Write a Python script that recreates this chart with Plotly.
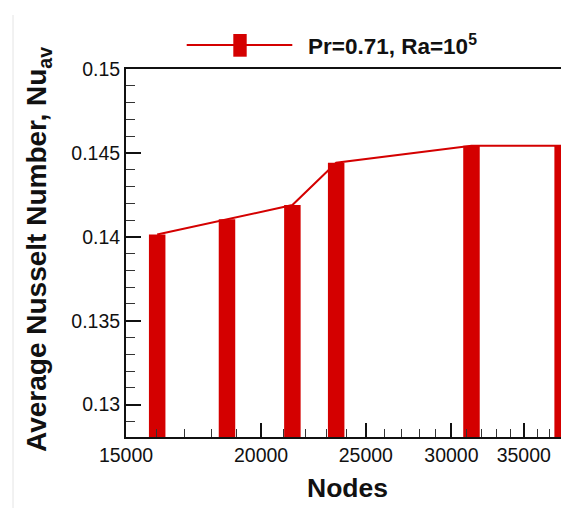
import math
import plotly.graph_objects as go

# ---------------- data ----------------
nodes = [16030, 18600, 21380, 23470, 31310, 38020]
nu_av = [0.14014, 0.14104, 0.14189, 0.14441, 0.14542, 0.14542]

x_major_ticks = [15000, 20000, 25000, 30000, 35000]
x_major_labels = ["15000", "20000", "25000", "30000", "35000"]
x_minor_ticks = [v for v in range(16000, 38000, 1000) if v % 5000 != 0]

y_major_ticks = [0.13, 0.135, 0.14, 0.145, 0.15]
y_major_labels = ["0.13", "0.135", "0.14", "0.145", "0.15"]

series_label = "Pr=0.71, Ra=10<sup>5</sup>"
x_title = "Nodes"
y_title = "Average Nusselt Number, Nu<sub>av</sub>"

# ---------------- style ----------------
W, H = 561, 508
ML, MR, MT, MB = 126, 0, 69, 71
PW, PH = W - ML - MR, H - MT - MB
RED = "#d40000"
FONT = "Liberation Sans, Arial, Helvetica, sans-serif"
BAR_BASE = 0.12  # below visible range, clipped by the axis
X_PX_PER_DECADE = 1081.0


def px_x(p):
    return (p - ML) / PW


def px_y(p):
    return (H - MB - p) / PH


# bars drawn as thick vertical segments from below the axis up to each value
bar_x, bar_y = [], []
for n, v in zip(nodes, nu_av):
    bar_x += [n, n, None]
    bar_y += [BAR_BASE, v, None]

fig = go.Figure()
fig.add_trace(go.Scatter(x=bar_x, y=bar_y, mode="lines",
                         line=dict(color=RED, width=16.5),
                         hoverinfo="skip", showlegend=False))
fig.add_trace(go.Scatter(x=nodes, y=nu_av, mode="lines",
                         line=dict(color=RED, width=2),
                         name=series_label, showlegend=False))

x0 = math.log10(15000)
x1 = x0 + PW / X_PX_PER_DECADE

fig.update_layout(
    width=W, height=H,
    margin=dict(l=ML, r=MR, t=MT, b=MB, pad=0),
    paper_bgcolor="white", plot_bgcolor="white",
    showlegend=False,
    font=dict(family=FONT, color="#111111"),
    xaxis=dict(
        type="log", range=[x0, x1],
        tickmode="array", tickvals=x_major_ticks, ticktext=x_major_labels,
        ticks="inside", ticklen=14, tickwidth=2, tickcolor="#111111",
        showline=True, linewidth=2, linecolor="#111111", mirror=True,
        showgrid=False, zeroline=False,
        tickfont=dict(size=19.5, family=FONT, color="#111111"),
        minor=dict(tickmode="array", tickvals=x_minor_ticks, ticks="inside",
                   ticklen=8, tickwidth=1, tickcolor="#333333", showgrid=False),
    ),
    yaxis=dict(
        range=[0.12807, 0.15],
        tickmode="array", tickvals=y_major_ticks, ticktext=y_major_labels,
        ticks="inside", ticklen=15, tickwidth=2, tickcolor="#111111",
        showline=True, linewidth=2, linecolor="#111111", mirror=False,
        showgrid=False, zeroline=False,
        tickfont=dict(size=19.5, family=FONT, color="#111111"),
        minor=dict(dtick=0.001, tick0=0, ticks="inside",
                   ticklen=9, tickwidth=1, tickcolor="#333333", showgrid=False),
    ),
)

# manual legend: long line with a tall bar symbol, then bold label
fig.add_shape(type="line", xref="paper", yref="paper",
              x0=px_x(186.7), x1=px_x(292.3), y0=px_y(45), y1=px_y(45),
              line=dict(color=RED, width=2))
fig.add_shape(type="rect", xref="paper", yref="paper",
              x0=px_x(233.3), x1=px_x(246.7), y0=px_y(56.7), y1=px_y(34),
              line=dict(width=0), fillcolor=RED)
fig.add_annotation(text=series_label, xref="paper", yref="paper",
                   x=px_x(306), y=px_y(45), xanchor="left", yanchor="middle",
                   showarrow=False,
                   font=dict(family=FONT, size=22.5, color="#111111", weight="bold"))

# axis titles
fig.add_annotation(text=x_title, xref="paper", yref="paper",
                   x=px_x(347), y=px_y(488), xanchor="center", yanchor="middle",
                   showarrow=False,
                   font=dict(family=FONT, size=26.5, color="#111111", weight="bold"))
fig.add_annotation(text=y_title, xref="paper", yref="paper",
                   x=px_x(38), y=px_y(250), xanchor="center", yanchor="middle",
                   textangle=-90, showarrow=False,
                   font=dict(family=FONT, size=28, color="#111111", weight="bold"))

# faint crop border at left edge
fig.add_shape(type="line", xref="paper", yref="paper",
              x0=px_x(13), x1=px_x(13), y0=px_y(508), y1=px_y(15),
              line=dict(color="#e4e4e4", width=1))

fig.write_html("out.html")
